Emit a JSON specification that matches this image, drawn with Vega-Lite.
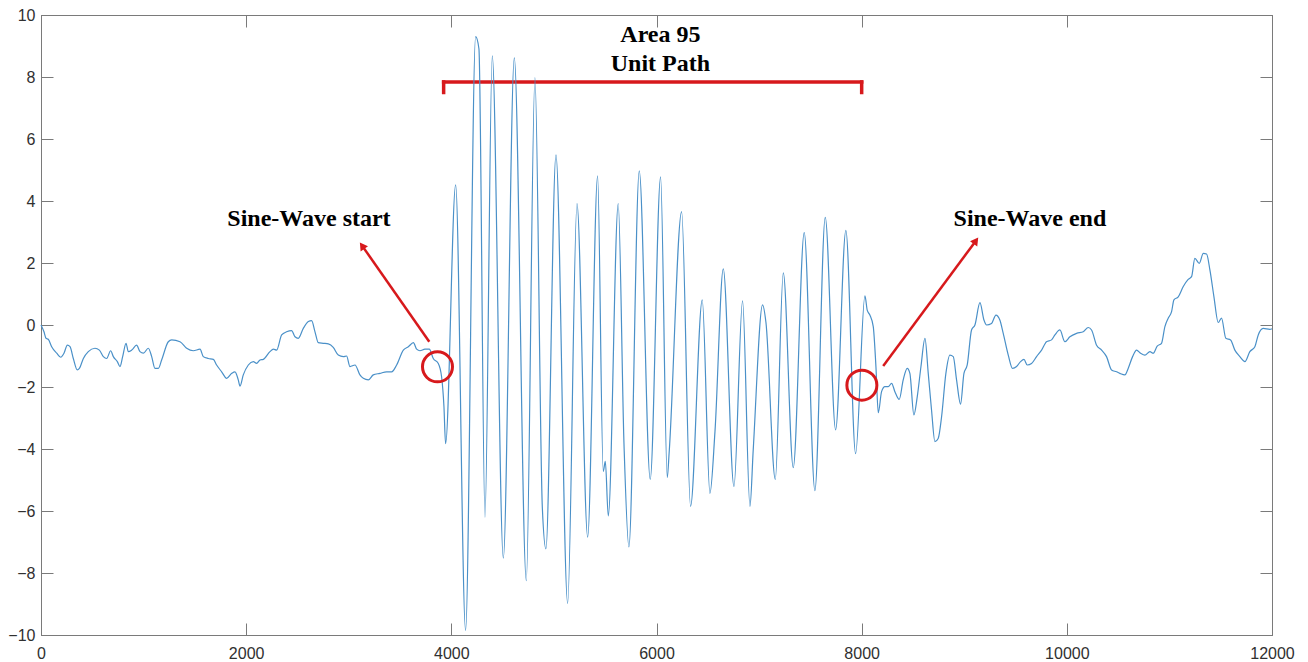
{
  "$schema": "https://vega.github.io/schema/vega-lite/v6.json",
  "autosize": "none",
  "width": 1231,
  "height": 620,
  "padding": {"left": 41, "top": 15, "right": 36, "bottom": 27},
  "background": "white",
  "config": {
    "view": {"stroke": "#7a7a7a", "strokeWidth": 1},
    "font": "Liberation Sans",
    "axis": {
      "grid": false,
      "title": null,
      "domainColor": "#7a7a7a",
      "tickColor": "#7a7a7a",
      "tickSize": -12,
      "labelFont": "Liberation Sans",
      "labelFontSize": 16,
      "labelColor": "#303030"
    }
  },
  "datasets": {
    "signal": [
      {"t": 0, "v": 0.0}, {"t": 29, "v": -0.22}, {"t": 49, "v": -0.43}, {"t": 71, "v": -0.46},
      {"t": 104, "v": -0.70}, {"t": 153, "v": -0.91}, {"t": 192, "v": -1.04}, {"t": 224, "v": -0.91},
      {"t": 257, "v": -0.65}, {"t": 283, "v": -0.70}, {"t": 315, "v": -1.08}, {"t": 354, "v": -1.45},
      {"t": 374, "v": -1.40}, {"t": 413, "v": -1.08}, {"t": 461, "v": -0.86}, {"t": 526, "v": -0.75},
      {"t": 569, "v": -0.81}, {"t": 608, "v": -1.02}, {"t": 640, "v": -1.08}, {"t": 679, "v": -0.83},
      {"t": 705, "v": -1.02}, {"t": 744, "v": -1.18}, {"t": 770, "v": -1.34}, {"t": 796, "v": -1.02},
      {"t": 829, "v": -0.59}, {"t": 851, "v": -0.86}, {"t": 884, "v": -0.81}, {"t": 932, "v": -0.65},
      {"t": 965, "v": -0.86}, {"t": 998, "v": -0.91}, {"t": 1046, "v": -0.75}, {"t": 1079, "v": -1.02},
      {"t": 1111, "v": -1.40}, {"t": 1144, "v": -1.40}, {"t": 1176, "v": -1.13}, {"t": 1241, "v": -0.54},
      {"t": 1274, "v": -0.48}, {"t": 1355, "v": -0.54}, {"t": 1420, "v": -0.75}, {"t": 1485, "v": -0.83},
      {"t": 1550, "v": -0.78}, {"t": 1582, "v": -1.02}, {"t": 1631, "v": -1.08}, {"t": 1680, "v": -1.11},
      {"t": 1712, "v": -1.29}, {"t": 1761, "v": -1.51}, {"t": 1810, "v": -1.72}, {"t": 1859, "v": -1.56},
      {"t": 1891, "v": -1.51}, {"t": 1923, "v": -1.77}, {"t": 1940, "v": -1.97}, {"t": 1972, "v": -1.61},
      {"t": 2021, "v": -1.29}, {"t": 2070, "v": -1.18}, {"t": 2102, "v": -1.24}, {"t": 2135, "v": -1.13},
      {"t": 2167, "v": -1.11}, {"t": 2232, "v": -0.86}, {"t": 2265, "v": -0.78}, {"t": 2297, "v": -0.81},
      {"t": 2346, "v": -0.32}, {"t": 2394, "v": -0.22}, {"t": 2443, "v": -0.18}, {"t": 2476, "v": -0.38},
      {"t": 2508, "v": -0.43}, {"t": 2557, "v": -0.11}, {"t": 2606, "v": 0.11}, {"t": 2638, "v": 0.14},
      {"t": 2671, "v": -0.22}, {"t": 2703, "v": -0.57}, {"t": 2752, "v": -0.59}, {"t": 2801, "v": -0.61},
      {"t": 2849, "v": -0.72}, {"t": 2898, "v": -0.97}, {"t": 2947, "v": -1.02}, {"t": 2979, "v": -1.00},
      {"t": 3012, "v": -1.34}, {"t": 3061, "v": -1.29}, {"t": 3109, "v": -1.61}, {"t": 3142, "v": -1.72},
      {"t": 3191, "v": -1.77}, {"t": 3239, "v": -1.61}, {"t": 3304, "v": -1.56}, {"t": 3369, "v": -1.51},
      {"t": 3418, "v": -1.51}, {"t": 3467, "v": -1.29}, {"t": 3532, "v": -0.81}, {"t": 3581, "v": -0.70},
      {"t": 3630, "v": -0.57}, {"t": 3662, "v": -0.78}, {"t": 3694, "v": -0.83}, {"t": 3743, "v": -0.78},
      {"t": 3785, "v": -0.78}, {"t": 3824, "v": -1.08}, {"t": 3873, "v": -1.24}, {"t": 3905, "v": -1.67},
      {"t": 3928, "v": -2.63}, {"t": 3944, "v": -3.83},
      {"t": 4042, "v": 4.52}, {"t": 4139, "v": -9.85}, {"t": 4237, "v": 9.30}, {"t": 4269, "v": 8.91},
      {"t": 4328, "v": -6.20}, {"t": 4399, "v": 8.68}, {"t": 4507, "v": -7.52}, {"t": 4614, "v": 8.62},
      {"t": 4731, "v": -8.25}, {"t": 4815, "v": 7.98}, {"t": 4887, "v": -5.88}, {"t": 4922, "v": -7.22},
      {"t": 5020, "v": 5.49}, {"t": 5134, "v": -8.98}, {"t": 5225, "v": 3.92}, {"t": 5329, "v": -6.84},
      {"t": 5426, "v": 4.81}, {"t": 5481, "v": -4.72}, {"t": 5501, "v": -4.40}, {"t": 5530, "v": -6.16},
      {"t": 5627, "v": 3.92}, {"t": 5683, "v": -3.83}, {"t": 5731, "v": -7.16}, {"t": 5832, "v": 4.97},
      {"t": 5939, "v": -4.98}, {"t": 6040, "v": 4.78}, {"t": 6105, "v": -4.92}, {"t": 6124, "v": -4.08},
      {"t": 6245, "v": 3.66}, {"t": 6332, "v": -5.85}, {"t": 6446, "v": 0.81}, {"t": 6521, "v": -5.43},
      {"t": 6570, "v": -3.44}, {"t": 6651, "v": 1.81}, {"t": 6755, "v": -5.21}, {"t": 6839, "v": 0.78},
      {"t": 6911, "v": -5.85}, {"t": 6943, "v": -4.02}, {"t": 7034, "v": 0.65}, {"t": 7067, "v": 0.08},
      {"t": 7158, "v": -4.98}, {"t": 7236, "v": 1.68}, {"t": 7333, "v": -4.60}, {"t": 7440, "v": 2.98},
      {"t": 7544, "v": -5.34}, {"t": 7645, "v": 3.47}, {"t": 7746, "v": -3.38}, {"t": 7846, "v": 3.05},
      {"t": 7941, "v": -4.15}, {"t": 8032, "v": 0.94}, {"t": 8054, "v": 0.48}, {"t": 8080, "v": 0.32},
      {"t": 8113, "v": -0.05}, {"t": 8139, "v": -1.34}, {"t": 8162, "v": -2.83}, {"t": 8194, "v": -2.15},
      {"t": 8227, "v": -1.99}, {"t": 8259, "v": -1.99}, {"t": 8292, "v": -1.88}, {"t": 8324, "v": -2.15},
      {"t": 8366, "v": -2.40}, {"t": 8405, "v": -1.77}, {"t": 8444, "v": -1.40}, {"t": 8470, "v": -1.56},
      {"t": 8509, "v": -2.90}, {"t": 8542, "v": -2.31}, {"t": 8578, "v": -1.34}, {"t": 8617, "v": -0.43},
      {"t": 8649, "v": -1.56}, {"t": 8681, "v": -2.74}, {"t": 8714, "v": -3.76}, {"t": 8746, "v": -3.66},
      {"t": 8779, "v": -2.96}, {"t": 8821, "v": -1.56}, {"t": 8860, "v": -0.97}, {"t": 8893, "v": -1.02},
      {"t": 8925, "v": -1.77}, {"t": 8964, "v": -2.55}, {"t": 8997, "v": -1.56}, {"t": 9029, "v": -1.29},
      {"t": 9071, "v": -0.16}, {"t": 9104, "v": 0.0}, {"t": 9153, "v": 0.72}, {"t": 9192, "v": 0.16},
      {"t": 9218, "v": 0.0}, {"t": 9266, "v": 0.05}, {"t": 9309, "v": 0.32}, {"t": 9347, "v": 0.16},
      {"t": 9380, "v": -0.27}, {"t": 9429, "v": -0.97}, {"t": 9471, "v": -1.40}, {"t": 9510, "v": -1.34},
      {"t": 9549, "v": -1.18}, {"t": 9582, "v": -1.11}, {"t": 9614, "v": -1.29}, {"t": 9656, "v": -1.24},
      {"t": 9705, "v": -1.02}, {"t": 9754, "v": -0.81}, {"t": 9802, "v": -0.54}, {"t": 9851, "v": -0.48},
      {"t": 9884, "v": -0.32}, {"t": 9932, "v": -0.16}, {"t": 9981, "v": -0.54}, {"t": 10030, "v": -0.38},
      {"t": 10095, "v": -0.27}, {"t": 10160, "v": -0.22}, {"t": 10209, "v": -0.08}, {"t": 10241, "v": -0.16},
      {"t": 10290, "v": -0.65}, {"t": 10339, "v": -0.81}, {"t": 10387, "v": -1.02}, {"t": 10436, "v": -1.45},
      {"t": 10485, "v": -1.51}, {"t": 10517, "v": -1.56}, {"t": 10566, "v": -1.61}, {"t": 10598, "v": -1.40},
      {"t": 10641, "v": -1.02}, {"t": 10680, "v": -0.81}, {"t": 10719, "v": -0.91}, {"t": 10761, "v": -0.97},
      {"t": 10810, "v": -0.86}, {"t": 10842, "v": -0.91}, {"t": 10881, "v": -0.68}, {"t": 10923, "v": -0.59},
      {"t": 10956, "v": -0.05}, {"t": 10988, "v": 0.22}, {"t": 11021, "v": 0.43}, {"t": 11044, "v": 0.81},
      {"t": 11086, "v": 0.91}, {"t": 11135, "v": 1.24}, {"t": 11183, "v": 1.47}, {"t": 11216, "v": 1.56},
      {"t": 11248, "v": 2.15}, {"t": 11291, "v": 1.99}, {"t": 11330, "v": 2.31}, {"t": 11362, "v": 2.29},
      {"t": 11395, "v": 1.77}, {"t": 11434, "v": 0.91}, {"t": 11476, "v": 0.08}, {"t": 11508, "v": 0.22},
      {"t": 11550, "v": -0.43}, {"t": 11596, "v": -0.48}, {"t": 11638, "v": -0.81}, {"t": 11687, "v": -1.02},
      {"t": 11736, "v": -1.18}, {"t": 11784, "v": -0.86}, {"t": 11833, "v": -0.70}, {"t": 11866, "v": -0.32},
      {"t": 11914, "v": -0.11}, {"t": 11979, "v": -0.14}, {"t": 12000, "v": -0.12}
    ],
    "bracket": [
      {"t": 3925, "t2": 8000, "v": 7.84, "v2": 7.84},
      {"t": 3925, "t2": 3925, "v": 7.84, "v2": 7.5},
      {"t": 8000, "t2": 8000, "v": 7.84, "v2": 7.5}
    ],
    "arrows": [
      {"t": 3785, "v": -0.54, "t2": 3130, "v2": 2.56, "angle": 325},
      {"t": 8210, "v": -1.32, "t2": 9114, "v2": 2.72, "angle": 36.5}
    ],
    "circles": [
      {"t": 3865, "v": -1.35},
      {"t": 8002, "v": -1.94}
    ],
    "labels": [
      {"t": 6038, "v": 9.13, "text": "Area 95"},
      {"t": 6038, "v": 8.19, "text": "Unit Path"},
      {"t": 2612, "v": 3.19, "text": "Sine-Wave start"},
      {"t": 9640, "v": 3.19, "text": "Sine-Wave end"}
    ]
  },
  "resolve": {"axis": {"x": "independent", "y": "independent"}},
  "layer": [
    {
      "data": {"name": "bracket"},
      "mark": {"type": "rule", "color": "#d7191c", "strokeWidth": 3.5, "strokeCap": "square"},
      "encoding": {
        "x": {"field": "t", "type": "quantitative", "scale": {"domain": [0, 12000], "nice": false, "zero": false},
              "axis": {"orient": "top", "labels": false, "values": [0, 2000, 4000, 6000, 8000, 10000, 12000]}},
        "x2": {"field": "t2"},
        "y": {"field": "v", "type": "quantitative", "scale": {"domain": [-10, 10], "nice": false},
              "axis": {"orient": "right", "labels": false, "values": [-10, -8, -6, -4, -2, 0, 2, 4, 6, 8, 10]}},
        "y2": {"field": "v2"}
      }
    },
    {
      "data": {"name": "signal"},
      "mark": {"type": "line", "interpolate": "monotone", "color": "#4a90c8", "strokeWidth": 1.2},
      "encoding": {
        "x": {"field": "t", "type": "quantitative", "scale": {"domain": [0, 12000], "nice": false, "zero": false},
              "axis": {"orient": "bottom", "values": [0, 2000, 4000, 6000, 8000, 10000, 12000], "format": "d", "labelPadding": 22, "labelFlush": false}},
        "y": {"field": "v", "type": "quantitative", "scale": {"domain": [-10, 10], "nice": false},
              "axis": {"orient": "left", "values": [-10, -8, -6, -4, -2, 0, 2, 4, 6, 8, 10], "labelPadding": 18}}
      }
    },
    {
      "data": {"name": "arrows"},
      "mark": {"type": "rule", "color": "#d7191c", "strokeWidth": 2.5},
      "encoding": {
        "x": {"field": "t", "type": "quantitative", "axis": null},
        "x2": {"field": "t2"},
        "y": {"field": "v", "type": "quantitative", "axis": null},
        "y2": {"field": "v2"}
      }
    },
    {
      "data": {"name": "arrows"},
      "mark": {"type": "point", "shape": "triangle-up", "filled": true, "color": "#d7191c", "size": 80, "opacity": 1},
      "encoding": {
        "x": {"field": "t2", "type": "quantitative", "axis": null},
        "y": {"field": "v2", "type": "quantitative", "axis": null},
        "angle": {"field": "angle", "type": "quantitative", "scale": null}
      }
    },
    {
      "data": {"name": "circles"},
      "mark": {"type": "point", "shape": "circle", "filled": false, "color": "#d7191c", "size": 900, "strokeWidth": 3, "opacity": 1},
      "encoding": {
        "x": {"field": "t", "type": "quantitative", "axis": null},
        "y": {"field": "v", "type": "quantitative", "axis": null}
      }
    },
    {
      "data": {"name": "labels"},
      "mark": {"type": "text", "font": "Liberation Serif", "fontWeight": "bold", "fontSize": 24, "color": "#000000", "align": "center", "baseline": "alphabetic"},
      "encoding": {
        "x": {"field": "t", "type": "quantitative", "axis": null},
        "y": {"field": "v", "type": "quantitative", "axis": null},
        "text": {"field": "text"}
      }
    }
  ]
}
